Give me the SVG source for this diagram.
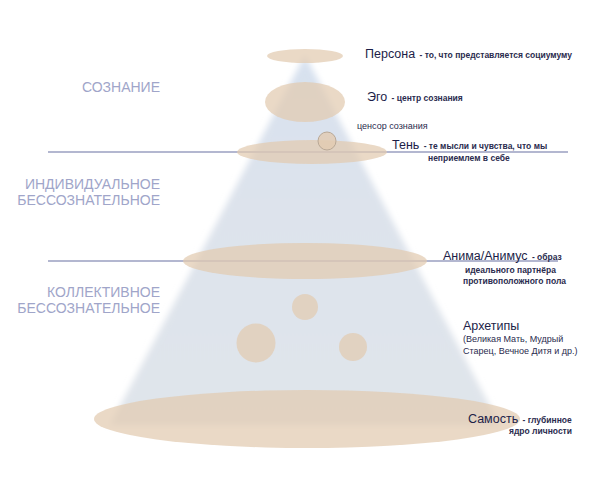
<svg xmlns="http://www.w3.org/2000/svg" width="600" height="480" viewBox="0 0 600 480">
<style>
.lay{font-family:"Liberation Sans",Arial,sans-serif;font-size:14px;fill:#a0a5c9;text-anchor:end}
.t{font-family:"Liberation Sans",Arial,sans-serif;font-size:12.5px;fill:#1c1e48}
.d{font-family:"Liberation Sans",Arial,sans-serif;font-size:8.5px;font-weight:bold;fill:#2a2b4e}
.r{font-family:"Liberation Sans",Arial,sans-serif;font-size:9px;fill:#2a2b4e}
.blob{fill:#e2cbb0;fill-opacity:0.72}
.sep{stroke:#b3b7d0;stroke-width:2;fill:none}
</style>
<defs>
<linearGradient id="cone" x1="0" y1="0" x2="0" y2="1">
<stop offset="0" stop-color="#d7e1ef"/>
<stop offset="0.4" stop-color="#dde3ec"/>
<stop offset="1" stop-color="#e0e5eb"/>
</linearGradient>
<filter id="soft" x="-10%" y="-10%" width="120%" height="120%"><feGaussianBlur stdDeviation="3"/></filter>
</defs>
<rect width="600" height="480" fill="#ffffff"/>
<g id="cone-shape">
<polygon points="305,55 110,425 500,425" fill="url(#cone)" filter="url(#soft)"/>
</g>
<g id="connectors">
<line class="sep" x1="48" y1="152" x2="568" y2="152"/>
<line class="sep" x1="48" y1="261" x2="558" y2="261"/>
</g>
<g id="layers">
<text class="lay" x="160" y="92">СОЗНАНИЕ</text>
<text class="lay" x="160" y="189">ИНДИВИДУАЛЬНОЕ</text>
<text class="lay" x="160" y="205">БЕССОЗНАТЕЛЬНОЕ</text>
<text class="lay" x="160" y="297">КОЛЛЕКТИВНОЕ</text>
<text class="lay" x="160" y="313">БЕССОЗНАТЕЛЬНОЕ</text>
</g>
<g id="persona">
<ellipse class="blob" cx="305" cy="56" rx="38" ry="7"/>
<text x="365" y="58"><tspan class="t">Персона</tspan><tspan class="d" dx="2"> - то, что представляется социумуму</tspan></text>
</g>
<g id="ego">
<ellipse class="blob" cx="305" cy="102" rx="40" ry="20"/>
<text x="367" y="101"><tspan class="t">Эго</tspan><tspan class="d" dx="2"> - центр сознания</tspan></text>
</g>
<g id="shadow">
<ellipse class="blob" cx="312" cy="152" rx="75" ry="12"/>
<text x="392" y="149"><tspan class="t">Тень</tspan><tspan class="d" dx="2"> - те мысли и чувства, что мы</tspan></text>
<text class="d" x="428" y="161">неприемлем в себе</text>
</g>
<g id="censor">
<circle cx="327" cy="141" r="9" fill="#e2cbb0" fill-opacity="0.8" stroke="#b9a896" stroke-width="1"/>
<text class="r" x="357" y="129" fill="#3a3d6c">ценсор сознания</text>
</g>
<g id="anima">
<ellipse class="blob" cx="305" cy="261" rx="122" ry="18"/>
<text x="443" y="260"><tspan class="t">Анима/Анимус</tspan><tspan class="d" dx="2"> - образ</tspan></text>
<text class="d" x="465" y="273">идеального партнёра</text>
<text class="d" x="463" y="284">противоположного пола</text>
</g>
<g id="archetypes">
<circle class="blob" cx="305" cy="307" r="13"/>
<circle class="blob" cx="256" cy="343" r="19.5"/>
<circle class="blob" cx="353" cy="347" r="14"/>
<text class="t" x="463" y="330">Архетипы</text>
<text class="r" x="463" y="342">(Великая Мать, Мудрый</text>
<text class="r" x="463" y="354">Старец, Вечное Дитя и др.)</text>
</g>
<g id="self">
<ellipse class="blob" cx="307" cy="419" rx="213" ry="29"/>
<text x="468" y="423"><tspan class="t">Самость</tspan><tspan class="d" dx="2"> - глубинное</tspan></text>
<text class="d" x="572" y="434" text-anchor="end">ядро личности</text>
</g>
</svg>
